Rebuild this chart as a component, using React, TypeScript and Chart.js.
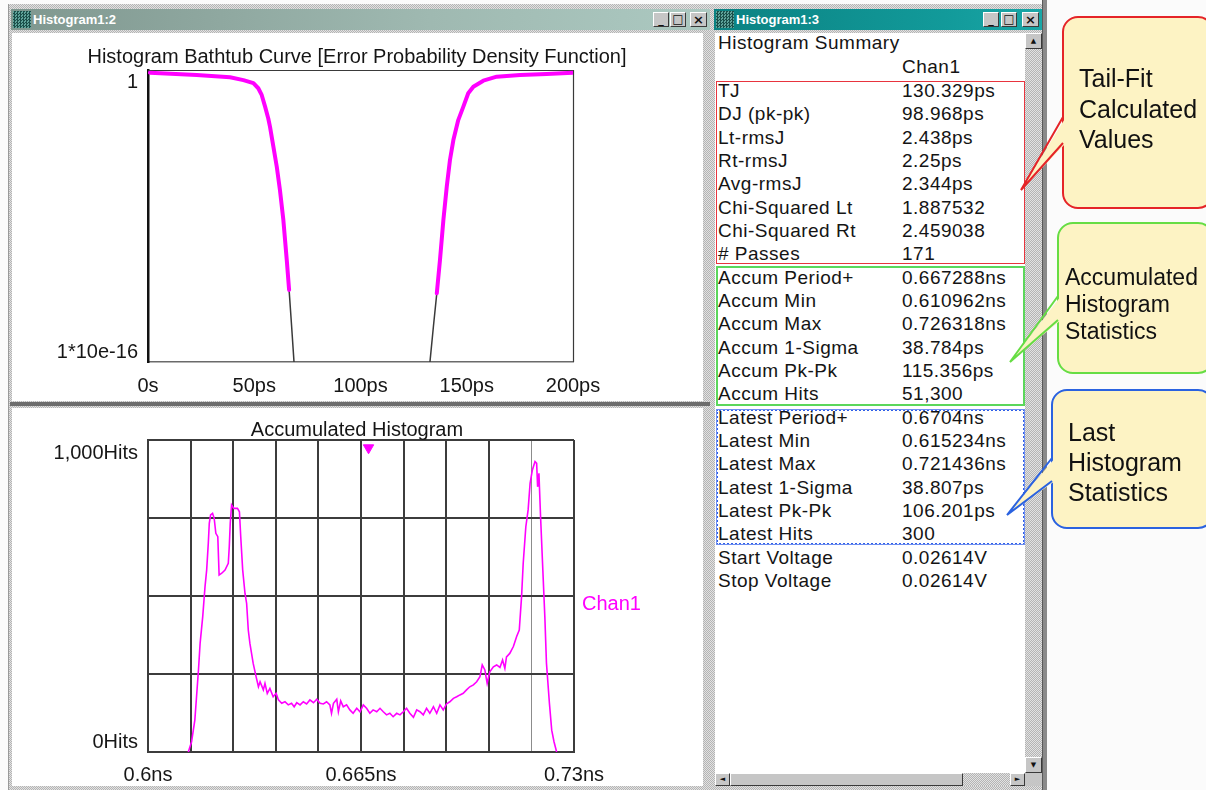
import React, { useEffect, useRef } from 'react';
import { Chart, registerables } from 'chart.js';

Chart.register(...registerables);

const FONT = '"Liberation Sans", Arial, sans-serif';
const MAGENTA = '#ff00ff';

// ---------- Bathtub curve (top chart) ----------
const BT_TITLE = 'Histogram Bathtub Curve [Error Probability Density Function]';
const BT_X_TICKS = [0, 50, 100, 150, 200];
const BT_X_LABELS = ['0s', '50ps', '100ps', '150ps', '200ps'];
const BT_Y_TICKS = [1, 1e-16];
const BT_Y_LABELS = ['1', '1*10e-16'];

const BT_LEFT_PS = [0.9, 22.9, 38.6, 44.9, 49.6, 51.9, 53.5, 55.1, 56.6, 57.4, 59.0, 60.6, 62.1, 63.7, 65.3, 66.4];
const BT_LEFT_P = [0.71, 0.53, 0.4, 0.28, 0.19, 0.1, 0.043, 9.8e-3, 2.2e-3, 7.9e-4, 6.3e-5, 5e-6, 2.6e-7, 6e-9, 3.9e-11, 8.9e-13];
const BT_LEFT_FIT_PS = [66.4, 67.6, 68.7];
const BT_LEFT_FIT_P = [8.9e-13, 8.5e-15, 1.05e-16];
const BT_RIGHT_PS = [135.9, 137.4, 139.0, 140.6, 142.1, 143.7, 146.0, 148.4, 150.7, 153.1, 157.8, 164.1, 175.1, 187.6, 199.9];
const BT_RIGHT_P = [5.8e-13, 3.9e-11, 6e-9, 4.1e-7, 1.17e-5, 1.45e-4, 1.8e-3, 9.8e-3, 0.053, 0.122, 0.26, 0.43, 0.53, 0.6, 0.71];
const BT_RIGHT_FIT_PS = [132.7, 134.3, 135.9];
const BT_RIGHT_FIT_P = [1.05e-16, 8.5e-15, 5.8e-13];

// ---------- Accumulated histogram (bottom chart) ----------
const HIST_TITLE = 'Accumulated Histogram';
const HIST_SERIES = 'Chan1';
const HIST_X_TICKS = [0.6, 0.613, 0.626, 0.639, 0.652, 0.665, 0.678, 0.691, 0.704, 0.717, 0.73];
const HIST_X_LABELS = ['0.6ns', '', '', '', '', '0.665ns', '', '', '', '', '0.73ns'];
const HIST_Y_TICKS = [0, 250, 500, 750, 1000];
const HIST_Y_END_TICKS = [1000, 0];
const HIST_Y_LABELS = ['1,000Hits', '0Hits'];

const HIST_NS = [
  0.6123, 0.6133, 0.6143, 0.6154, 0.6159, 0.6167, 0.6174, 0.6179, 0.6184, 0.6187,
  0.6191, 0.6197, 0.6202, 0.6207, 0.6213, 0.6217, 0.6225, 0.6235, 0.6245, 0.6248,
  0.6251, 0.6255, 0.6262, 0.6273, 0.6279, 0.6283, 0.6289, 0.6296, 0.6301, 0.6306,
  0.6311, 0.6321, 0.633, 0.6337, 0.6342, 0.6352, 0.6357, 0.6364, 0.6372, 0.6382,
  0.6391, 0.6398, 0.6408, 0.6418, 0.6428, 0.6438, 0.6446, 0.6454, 0.6464, 0.6474,
  0.6484, 0.6494, 0.6505, 0.6515, 0.6525, 0.6535, 0.6545, 0.6555, 0.656, 0.6566,
  0.6576, 0.6581, 0.6588, 0.6596, 0.6606, 0.6616, 0.6626, 0.6637, 0.6647, 0.6657,
  0.6667, 0.6677, 0.6687, 0.6698, 0.6708, 0.6718, 0.6728, 0.6738, 0.6748, 0.6759,
  0.6769, 0.6779, 0.6789, 0.6799, 0.681, 0.682, 0.683, 0.684, 0.685, 0.686,
  0.6871, 0.6881, 0.6891, 0.6901, 0.6911, 0.6921, 0.6932, 0.6942, 0.6952, 0.6962,
  0.6972, 0.6982, 0.6993, 0.7003, 0.7013, 0.702, 0.7028, 0.7035, 0.7043, 0.7054,
  0.7064, 0.7074, 0.7082, 0.7089, 0.7094, 0.7104, 0.7115, 0.7125, 0.7133, 0.714,
  0.7145, 0.7153, 0.716, 0.7166, 0.7173, 0.7181, 0.7186, 0.7189, 0.7193, 0.7198,
  0.7204, 0.7211, 0.7216, 0.7225, 0.7232, 0.7239, 0.7247,
];
const HIST_HITS = [
  0, 33, 103, 263, 348, 434, 530, 583, 669, 733,
  760, 765, 749, 701, 690, 567, 573, 583, 605, 658,
  733, 792, 781, 781, 770, 690, 583, 508, 476, 391,
  348, 284, 241, 209, 225, 199, 220, 188, 204, 177,
  188, 167, 156, 161, 151, 156, 145, 158, 151, 161,
  154, 167, 158, 169, 156, 154, 161, 151, 124, 156,
  169, 129, 164, 145, 151, 135, 124, 140, 129, 151,
  140, 124, 135, 129, 140, 129, 119, 124, 113, 124,
  119, 129, 140, 124, 111, 135, 129, 119, 140, 124,
  145, 124, 151, 135, 154, 161, 172, 177, 183, 188,
  199, 209, 215, 225, 241, 279, 263, 220, 257, 273,
  279, 271, 295, 268, 305, 316, 338, 370, 391, 498,
  605, 722, 776, 861, 904, 931, 925, 850, 893, 754,
  605, 434, 284, 156, 70, 33, 0,
];
const MEAN_MARKER_NS = [0.6673];
const MEAN_MARKER_HITS = [975];

// ---------- Histogram summary table ----------
const SUMMARY_TITLE = 'Histogram Summary';
const SUMMARY_CHANNEL = 'Chan1';
const TAILFIT_LABELS = ['TJ', 'DJ (pk-pk)', 'Lt-rmsJ', 'Rt-rmsJ', 'Avg-rmsJ', 'Chi-Squared Lt', 'Chi-Squared Rt', '# Passes'];
const TAILFIT_VALUES = ['130.329ps', '98.968ps', '2.438ps', '2.25ps', '2.344ps', '1.887532', '2.459038', '171'];
const ACCUM_LABELS = ['Accum Period+', 'Accum Min', 'Accum Max', 'Accum 1-Sigma', 'Accum Pk-Pk', 'Accum Hits'];
const ACCUM_VALUES = ['0.667288ns', '0.610962ns', '0.726318ns', '38.784ps', '115.356ps', '51,300'];
const LATEST_LABELS = ['Latest Period+', 'Latest Min', 'Latest Max', 'Latest 1-Sigma', 'Latest Pk-Pk', 'Latest Hits'];
const LATEST_VALUES = ['0.6704ns', '0.615234ns', '0.721436ns', '38.807ps', '106.201ps', '300'];
const VOLTAGE_LABELS = ['Start Voltage', 'Stop Voltage'];
const VOLTAGE_VALUES = ['0.02614V', '0.02614V'];

const CALLOUT_RED_TEXT = ['Tail-Fit', 'Calculated', 'Values'];
const CALLOUT_GREEN_TEXT = ['Accumulated', 'Histogram', 'Statistics'];
const CALLOUT_BLUE_TEXT = ['Last', 'Histogram', 'Statistics'];

const WINDOW_LEFT_TITLE = 'Histogram1:2';
const WINDOW_RIGHT_TITLE = 'Histogram1:3';

// ---------- helpers ----------
const pts = (xs: number[], ys: number[]) => xs.map((x, i) => ({ x, y: ys[i] }));

function yEndLabels(values: number[], labels: string[], offsets: number[]) {
  return {
    id: 'yEndLabels',
    afterDraw(chart: any) {
      const { ctx, chartArea, scales } = chart;
      ctx.save();
      ctx.font = `20px ${FONT}`;
      ctx.fillStyle = '#161616';
      ctx.textAlign = 'right';
      ctx.textBaseline = 'middle';
      values.forEach((v, i) => {
        ctx.fillText(labels[i], chartArea.left - 10, scales.y.getPixelForValue(v) + offsets[i]);
      });
      ctx.restore();
    },
  };
}

const bathtubFrame = {
  id: 'bathtubFrame',
  beforeDatasetsDraw(chart: any) {
    const { ctx, chartArea } = chart;
    const { left, top, right, bottom } = chartArea;
    ctx.save();
    ctx.strokeStyle = '#3a3a3a';
    ctx.lineWidth = 1.2;
    ctx.beginPath();
    ctx.moveTo(left, top + 0.5);
    ctx.lineTo(right + 0.5, top + 0.5);
    ctx.lineTo(right + 0.5, bottom);
    ctx.stroke();
    ctx.restore();
  },
};

const seriesLabel = {
  id: 'seriesLabel',
  afterDraw(chart: any) {
    const { ctx, chartArea } = chart;
    const ds = chart.data.datasets[0];
    ctx.save();
    ctx.font = `20px ${FONT}`;
    ctx.fillStyle = ds.borderColor;
    ctx.textAlign = 'left';
    ctx.textBaseline = 'middle';
    ctx.fillText(ds.label, chartArea.right + 8, (chartArea.top + chartArea.bottom) / 2 + 8);
    ctx.restore();
  },
};

// empty right-hand axis that only reserves blank space, so the title stays centred on the pane
const spacerAxis = (w: number) => ({
  type: 'linear',
  position: 'right',
  display: true,
  min: 0,
  max: 1,
  afterFit: (s: any) => { s.width = w; },
  ticks: { display: false },
  grid: { display: false, drawTicks: false },
  border: { display: false },
});

function BathtubChart() {
  const ref = useRef<HTMLCanvasElement>(null);
  useEffect(() => {
    const lineBase = { pointRadius: 0, tension: 0, borderCapStyle: 'round', borderJoinStyle: 'round' };
    const chart = new Chart(ref.current as HTMLCanvasElement, {
      type: 'line',
      data: {
        datasets: [
          { ...lineBase, label: 'Left', data: pts(BT_LEFT_PS, BT_LEFT_P), borderColor: MAGENTA, borderWidth: 4 },
          { ...lineBase, label: 'Left fit', data: pts(BT_LEFT_FIT_PS, BT_LEFT_FIT_P), borderColor: '#3a3a3a', borderWidth: 1.5 },
          { ...lineBase, label: 'Right', data: pts(BT_RIGHT_PS, BT_RIGHT_P), borderColor: MAGENTA, borderWidth: 4 },
          { ...lineBase, label: 'Right fit', data: pts(BT_RIGHT_FIT_PS, BT_RIGHT_FIT_P), borderColor: '#3a3a3a', borderWidth: 1.5 },
        ] as any,
      },
      options: {
        animation: false,
        responsive: false,
        events: [],
        layout: { padding: 0 },
        plugins: {
          legend: { display: false },
          tooltip: { enabled: false },
          title: {
            display: true,
            text: BT_TITLE,
            color: '#151515',
            font: { family: FONT, size: 20, weight: 'normal', lineHeight: 1 },
            padding: { top: 14, bottom: 3 },
          },
        },
        scales: {
          x: {
            type: 'linear',
            min: 0,
            max: 200,
            afterBuildTicks: (s: any) => { s.ticks = BT_X_TICKS.map((v) => ({ value: v })); },
            afterFit: (s: any) => { s.height = 37; },
            ticks: {
              callback: (_v: any, i: number) => BT_X_LABELS[i],
              autoSkip: false,
              maxRotation: 0,
              padding: 12,
              color: '#161616',
              font: { family: FONT, size: 20 },
            },
            grid: { display: false, drawTicks: false },
            border: { display: true, color: '#6a6a6a', width: 1.5 },
          },
          y: {
            type: 'logarithmic',
            min: BT_Y_TICKS[1],
            max: BT_Y_TICKS[0],
            afterFit: (s: any) => { s.width = 136; },
            ticks: { display: false },
            grid: { display: false, drawTicks: false },
            border: { display: true, color: '#111', width: 2.5 },
          },
          spacer: spacerAxis(129),
        },
      } as any,
      plugins: [bathtubFrame, yEndLabels(BT_Y_TICKS, BT_Y_LABELS, [12, -10])],
    });
    return () => chart.destroy();
  }, []);
  return (
    <canvas ref={ref} width={690} height={366}
      style={{ position: 'absolute', left: 12, top: 33, width: 690, height: 366 }} />
  );
}

function HistogramChart() {
  const ref = useRef<HTMLCanvasElement>(null);
  useEffect(() => {
    const GRID = '#3c3c3c';
    const chart = new Chart(ref.current as HTMLCanvasElement, {
      type: 'line',
      data: {
        datasets: [
          {
            label: HIST_SERIES,
            data: pts(HIST_NS, HIST_HITS),
            borderColor: MAGENTA,
            borderWidth: 1.6,
            pointRadius: 0,
            tension: 0,
          },
          {
            label: 'Mean',
            data: pts(MEAN_MARKER_NS, MEAN_MARKER_HITS),
            showLine: false,
            pointStyle: 'triangle',
            pointRotation: 180,
            pointRadius: 6,
            pointBackgroundColor: MAGENTA,
            pointBorderColor: MAGENTA,
          },
        ] as any,
      },
      options: {
        animation: false,
        responsive: false,
        events: [],
        layout: { padding: 0 },
        plugins: {
          legend: { display: false },
          tooltip: { enabled: false },
          title: {
            display: true,
            text: HIST_TITLE,
            color: '#151515',
            font: { family: FONT, size: 20, weight: 'normal', lineHeight: 1 },
            padding: { top: 11, bottom: 0 },
          },
        },
        scales: {
          x: {
            type: 'linear',
            min: HIST_X_TICKS[0],
            max: HIST_X_TICKS[HIST_X_TICKS.length - 1],
            afterBuildTicks: (s: any) => { s.ticks = HIST_X_TICKS.map((v) => ({ value: v })); },
            afterFit: (s: any) => { s.height = 33; },
            ticks: {
              callback: (_v: any, i: number) => HIST_X_LABELS[i],
              autoSkip: false,
              maxRotation: 0,
              padding: 11,
              color: '#161616',
              font: { family: FONT, size: 20 },
            },
            grid: {
              drawTicks: false,
              color: (c: any) => (c.index === 9 ? '#8c8c8c' : GRID),
              lineWidth: (c: any) => (c.index === 9 ? 1 : 2),
            },
            border: { display: true, color: GRID, width: 2 },
          },
          y: {
            type: 'linear',
            min: HIST_Y_TICKS[0],
            max: HIST_Y_TICKS[HIST_Y_TICKS.length - 1],
            afterBuildTicks: (s: any) => { s.ticks = HIST_Y_TICKS.map((v) => ({ value: v })); },
            afterFit: (s: any) => { s.width = 136; },
            ticks: { display: false },
            grid: { drawTicks: false, color: GRID, lineWidth: 2 },
            border: { display: true, color: GRID, width: 2 },
          },
          spacer: spacerAxis(128),
        },
      } as any,
      plugins: [seriesLabel, yEndLabels(HIST_Y_END_TICKS, HIST_Y_LABELS, [13, -10])],
    });
    return () => chart.destroy();
  }, []);
  return (
    <canvas ref={ref} width={690} height={376}
      style={{ position: 'absolute', left: 12, top: 409, width: 690, height: 376 }} />
  );
}

// ---------- window chrome ----------
const STIPPLE = 'repeating-conic-gradient(#b4b4b4 0% 25%, #e2e2e2 0% 50%) 0 0 / 2px 2px';

function Abs({ x, y, w, h, style, children }: any) {
  return (
    <div style={{ position: 'absolute', left: x, top: y, width: w, height: h, boxSizing: 'border-box', ...style }}>
      {children}
    </div>
  );
}

function Btn({ x, y, w = 16, h = 15, ch, size = 11 }: any) {
  return (
    <Abs x={x} y={y} w={w} h={h} style={{
      background: '#c6c6c6',
      borderTop: '1px solid #fff', borderLeft: '1px solid #fff',
      borderRight: '1px solid #3a3a3a', borderBottom: '1px solid #3a3a3a',
      font: `bold ${size}px "DejaVu Sans", sans-serif`, color: '#111',
      textAlign: 'center', lineHeight: `${h - 2}px`, overflow: 'hidden',
    }}>{ch}</Abs>
  );
}

function TitleBar({ x, w, bg, text, btnX }: any) {
  return (
    <>
      <Abs x={x} y={9} w={w} h={21} style={{ background: bg }} />
      <Abs x={x + 2} y={11} w={18} h={17} style={{
        background: 'repeating-conic-gradient(#1b4f4a 0% 25%, #5fa39a 0% 50%) 0 0 / 3px 3px',
      }} />
      <Abs x={x + 22} y={9} w={200} h={21} style={{
        color: '#fff', font: `bold 13px ${FONT}`, lineHeight: '21px', whiteSpace: 'nowrap',
      }}>{text}</Abs>
      <Btn x={btnX[0]} y={12} ch="_" />
      <Btn x={btnX[1]} y={12} ch="□" size={12} />
      <Btn x={btnX[2]} y={12} w={17} ch="×" size={13} />
    </>
  );
}

function StatsPanel() {
  const labels = [...TAILFIT_LABELS, ...ACCUM_LABELS, ...LATEST_LABELS, ...VOLTAGE_LABELS];
  const values = [...TAILFIT_VALUES, ...ACCUM_VALUES, ...LATEST_VALUES, ...VOLTAGE_VALUES];
  const txt = (x: number, cy: number, t: string, key: string) => (
    <div key={key} style={{
      position: 'absolute', left: x, top: cy - 12, height: 24, lineHeight: '24px',
      font: `19px ${FONT}`, letterSpacing: '0.5px', color: '#141414', whiteSpace: 'nowrap',
    }}>{t}</div>
  );
  return (
    <>
      {txt(718, 44, SUMMARY_TITLE, 'st')}
      {txt(902, 68, SUMMARY_CHANNEL, 'ch')}
      {labels.map((l, i) => txt(718, 92 + 23.33 * i, l, 'l' + i))}
      {values.map((v, i) => txt(902, 92 + 23.33 * i, v, 'v' + i))}
      <Abs x={716} y={81} w={309} h={183} style={{ border: '1.5px solid #e8343e' }} />
      <Abs x={716} y={266} w={309} h={140} style={{ border: '2px solid #5bd75b' }} />
      <Abs x={716} y={409} w={309} h={136} style={{ border: '2px dotted #2f5fe8', outline: '1px solid #6f8ff0', outlineOffset: '-1px' }} />
    </>
  );
}

function Callouts() {
  const fill = '#fdf3c4';
  const items = [
    { x: 1063, y: 17, w: 150, h: 191, color: '#e52428', t1: 117, t2: 143, tip: [1021, 190], lines: CALLOUT_RED_TEXT, tx: 1079, ty: [78, 108.5, 139], size: 25 },
    { x: 1058, y: 223, w: 155, h: 150, color: '#66dd44', t1: 296, t2: 320, tip: [1010, 362], lines: CALLOUT_GREEN_TEXT, tx: 1065, ty: [277, 304, 331], size: 23 },
    { x: 1052, y: 390, w: 161, h: 138, color: '#2a62e0', t1: 458, t2: 481, tip: [1007, 515], lines: CALLOUT_BLUE_TEXT, tx: 1068, ty: [432, 462, 492], size: 25 },
  ];
  return (
    <svg width={1206} height={790} style={{ position: 'absolute', left: 0, top: 0, pointerEvents: 'none' }}>
      {items.map((c, k) => (
        <g key={k}>
          <rect x={c.x} y={c.y} width={c.w} height={c.h} rx={15} ry={15} fill={fill} stroke={c.color} strokeWidth={2} />
          <polygon points={`${c.x + 3},${c.t1} ${c.tip[0]},${c.tip[1]} ${c.x + 3},${c.t2}`} fill={fill} />
          <polyline points={`${c.x},${c.t1} ${c.tip[0]},${c.tip[1]} ${c.x},${c.t2}`} fill="none" stroke={c.color} strokeWidth={2} strokeLinejoin="miter" />
          {c.lines.map((l, i) => (
            <text key={i} x={c.tx} y={c.ty[i] + c.size * 0.36} fontFamily={FONT} fontSize={c.size} fill="#111">{l}</text>
          ))}
        </g>
      ))}
    </svg>
  );
}

export default function App() {
  return (
    <div style={{ position: 'fixed', left: 0, top: 0, width: 1206, height: 790, background: '#fbfbfb', overflow: 'hidden', fontFamily: FONT }}>
      {/* left window */}
      <Abs x={8} y={4} w={703} h={786} style={{ background: STIPPLE, borderLeft: '1px solid #9a9a9a' }} />
      <TitleBar x={11} w={699} bg="linear-gradient(90deg,#7f978f,#9fb9b1 60%,#acc9c1)" text={WINDOW_LEFT_TITLE} btnX={[653, 670, 690]} />
      <Abs x={12} y={33} w={691} h={368} style={{ background: '#fff' }} />
      <Abs x={10} y={402} w={700} h={4} style={{ background: '#6c6c6c' }} />
      <Abs x={12} y={408} w={691} h={378} style={{ background: '#fff' }} />
      <BathtubChart />
      <HistogramChart />

      {/* right window */}
      <Abs x={711} y={4} w={336} h={786} style={{ background: STIPPLE }} />
      <Abs x={1042} y={0} w={5} h={790} style={{ background: '#8a8a8a', borderLeft: '1px solid #5a5a5a' }} />
      <TitleBar x={714} w={328} bg="linear-gradient(90deg,#0b8282,#129a9a 70%,#1aa6a6)" text={WINDOW_RIGHT_TITLE} btnX={[983, 1001, 1022]} />
      <Abs x={715} y={33} w={310} h={740} style={{ background: '#fff' }} />
      <Abs x={1025} y={33} w={17} h={740} style={{ background: STIPPLE }} />
      <Btn x={1025} y={33} w={17} h={16} ch="▲" size={7} />
      <Btn x={1025} y={757} w={17} h={16} ch="▼" size={7} />
      <Abs x={715} y={773} w={310} h={13} style={{ background: STIPPLE }} />
      <Btn x={715} y={773} w={15} h={13} ch="◄" size={7} />
      <Btn x={730} y={773} w={233} h={13} ch="" />
      <Btn x={1010} y={773} w={15} h={13} ch="►" size={7} />
      <Abs x={1025} y={773} w={17} h={13} style={{ background: '#c6c6c6' }} />
      <StatsPanel />

      <Callouts />
    </div>
  );
}
